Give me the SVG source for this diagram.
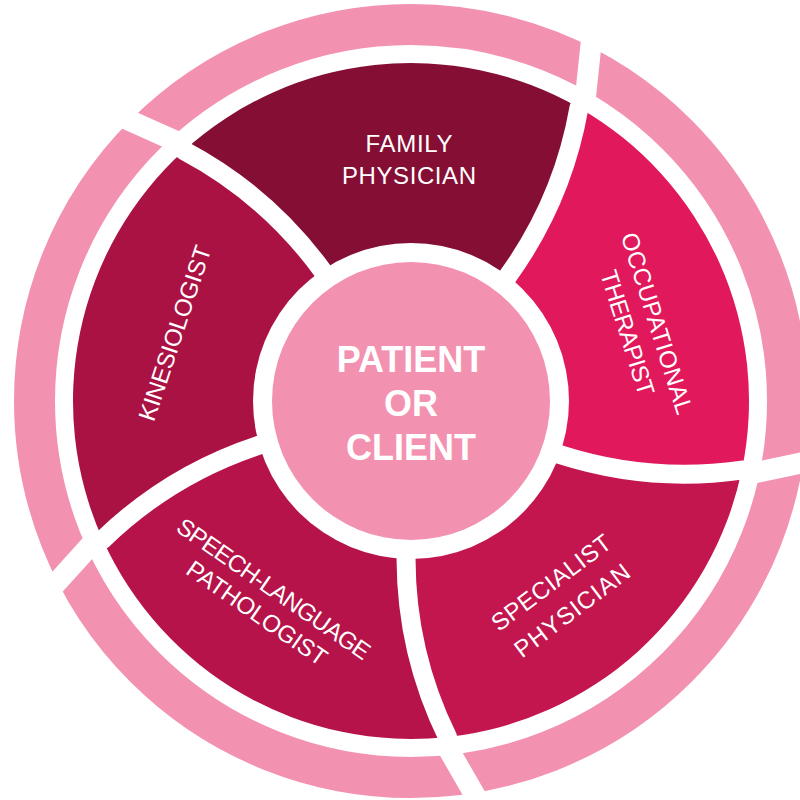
<svg xmlns="http://www.w3.org/2000/svg" xmlns:xlink="http://www.w3.org/1999/xlink" width="800" height="800" viewBox="0 0 800 800">
<style>
.lbl{font-family:"Liberation Sans",Arial,sans-serif;font-size:24px;fill:#fff;text-anchor:middle}
.ctr{font-family:"Liberation Sans",Arial,sans-serif;font-size:36px;font-weight:bold;fill:#fff;text-anchor:middle}
.gap{fill:none;stroke:#fff;stroke-width:19;stroke-linejoin:round}
.rgap{fill:none;stroke:#fff;stroke-width:21}
</style>
<defs>
<path id="wedge" d="M0,0 L96.84,-124.85 Q151.76,-200.91 167.98,-293.31 A338,338 0 0,1 330.87,69.12 Q237.98,82.25 148.67,53.52 Z"/>
<path id="div" d="M85.81,-110.62 L96.84,-124.85 Q151.76,-200.91 167.98,-293.31 L172.95,-301.98"/>
<path id="rg" d="M173.7,-296.9 L181.2,-367.8"/>
</defs>
<rect width="800" height="800" fill="#fff"/>
<g id="outer-ring">
<circle cx="411" cy="401" r="376.5" fill="none" stroke="#F391B0" stroke-width="41"/>
<g transform="translate(411 401)" class="rgap">
<use href="#rg"/>
<use href="#rg" transform="rotate(72)"/>
<use href="#rg" transform="rotate(144)"/>
<use href="#rg" transform="rotate(216)"/>
<use href="#rg" transform="rotate(288)"/>
</g>
</g>
<g id="family-physician">
<use href="#wedge" transform="translate(411 401) rotate(288)" fill="#850E35"/>
<text class="lbl" x="409" y="151.5" textLength="87">FAMILY</text>
<text class="lbl" x="409" y="183.5" textLength="134">PHYSICIAN</text>
</g>
<g id="occupational-therapist">
<use href="#wedge" transform="translate(411 401)" fill="#E1185B"/>
<g transform="translate(642.5 328) rotate(72.5)">
<text class="lbl" x="0" y="-6.9" textLength="189">OCCUPATIONAL</text>
<text class="lbl" x="0" y="24.1" textLength="130">THERAPIST</text>
</g>
</g>
<g id="specialist-physician">
<use href="#wedge" transform="translate(411 401) rotate(72)" fill="#C3164F"/>
<g transform="translate(561.4 596.3) rotate(-37)">
<text class="lbl" x="0" y="-8.9" textLength="143">SPECIALIST</text>
<text class="lbl" x="0" y="26.1" textLength="138">PHYSICIAN</text>
</g>
</g>
<g id="speech-language-pathologist">
<use href="#wedge" transform="translate(411 401) rotate(144)" fill="#B51349"/>
<g transform="translate(265.5 600.8) rotate(34.7)">
<text class="lbl" x="0" y="-6.15" textLength="229">SPEECH-LANGUAGE</text>
<text class="lbl" x="0" y="23.35" textLength="165">PATHOLOGIST</text>
</g>
</g>
<g id="kinesiologist">
<use href="#wedge" transform="translate(411 401) rotate(216)" fill="#AB1244"/>
<g transform="translate(174.5 333) rotate(-71.6)">
<text class="lbl" x="0" y="8.6" textLength="183">KINESIOLOGIST</text>
</g>
</g>
<g id="connectors" transform="translate(411 401)" class="gap">
<use href="#div"/>
<use href="#div" transform="rotate(72)"/>
<use href="#div" transform="rotate(144)"/>
<use href="#div" transform="rotate(216)"/>
<use href="#div" transform="rotate(288)"/>
</g>
<g id="patient-or-client">
<circle cx="411" cy="401" r="158" fill="#fff"/>
<circle cx="411" cy="401" r="139" fill="#F391B0"/>
<text class="ctr" x="411" y="371.7">PATIENT</text>
<text class="ctr" x="411" y="416">OR</text>
<text class="ctr" x="411" y="460">CLIENT</text>
</g>
</svg>
